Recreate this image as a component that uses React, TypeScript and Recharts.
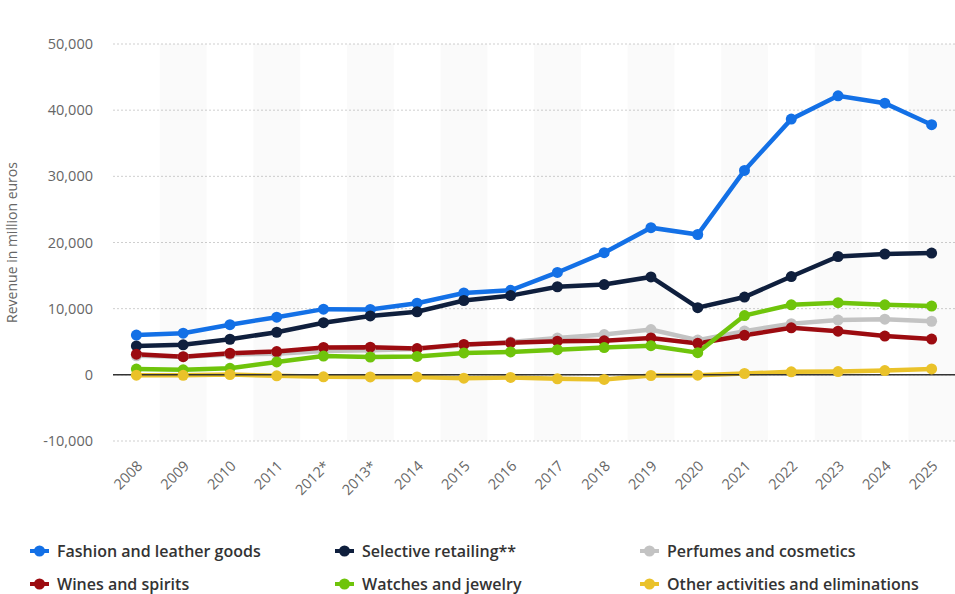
import { ComposedChart, Line, Bar, XAxis, YAxis, CartesianGrid, ReferenceLine } from 'recharts';

const years = ['2008', '2009', '2010', '2011', '2012*', '2013*', '2014', '2015', '2016', '2017', '2018', '2019', '2020', '2021', '2022', '2023', '2024', '2025'];
const fashion = [6010, 6302, 7581, 8712, 9926, 9883, 10828, 12369, 12775, 15472, 18455, 22237, 21207, 30896, 38648, 42169, 41060, 37800];
const selective = [4376, 4533, 5378, 6436, 7879, 8903, 9534, 11233, 11973, 13311, 13646, 14791, 10155, 11754, 14852, 17885, 18262, 18400];
const perfumes = [2868, 2741, 3076, 3195, 3613, 3717, 3916, 4517, 4953, 5560, 6092, 6835, 5248, 6608, 7722, 8271, 8418, 8100];
const wines = [3126, 2740, 3261, 3524, 4137, 4187, 3973, 4603, 4835, 5084, 5143, 5576, 4755, 5974, 7099, 6602, 5862, 5400];
const watches = [879, 764, 985, 1949, 2836, 2697, 2782, 3308, 3468, 3805, 4123, 4405, 3356, 8964, 10581, 10902, 10577, 10400];
const other = [-60, -80, 50, -150, -300, -320, -320, -500, -400, -600, -700, -100, -50, 200, 450, 500, 650, 900];
// alternating column shading
const shade = [0, 1, 0, 1, 0, 1, 0, 1, 0, 1, 0, 1, 0, 1, 0, 1, 0, 1];
const yTicks = [-10000, 0, 10000, 20000, 30000, 40000, 50000];

const series = [
    { key: 'fashion', name: 'Fashion and leather goods', color: '#1370e6' },
    { key: 'selective', name: 'Selective retailing**', color: '#0f1f3d' },
    { key: 'perfumes', name: 'Perfumes and cosmetics', color: '#c3c3c3' },
    { key: 'wines', name: 'Wines and spirits', color: '#9c0b10' },
    { key: 'watches', name: 'Watches and jewelry', color: '#6fc40b' },
    { key: 'other', name: 'Other activities and eliminations', color: '#eac22a' },
];

const data = years.map((year, i) => ({
    year,
    fashion: fashion[i],
    selective: selective[i],
    perfumes: perfumes[i],
    wines: wines[i],
    watches: watches[i],
    other: other[i],
    shade: shade[i],
}));

const font = '"Open Sans", sans-serif';

function XTick({ x, y, payload }: any) {
    return (
        <g transform={`translate(${x + 7},${y + 26})`}>
            <text x={0} y={0} textAnchor="end" transform="rotate(-45)" fill="#666" fontSize={14.5} fontFamily={font}>
                {payload.value}
            </text>
        </g>
    );
}

export default function App() {
    return (
        <div style={{ position: 'absolute', left: 0, top: 0, width: 955, height: 594, background: '#fff' }}>
            <ComposedChart width={955} height={501} data={data} margin={{ top: 44, right: 0, left: 0, bottom: 0 }} barCategoryGap={0}>
                <CartesianGrid vertical={false} stroke="#cfcfcf" strokeDasharray="2 2" />
                <XAxis dataKey="year" interval={0} axisLine={false} tickLine={false} tickSize={0} tickMargin={0} height={60} tick={<XTick />} />
                <YAxis
                    domain={[-10000, 50000]}
                    ticks={yTicks}
                    width={113}
                    axisLine={false}
                    tickLine={false}
                    tickSize={0}
                    tickMargin={20}
                    tickFormatter={(v: number) => v.toLocaleString('en-US')}
                    tick={{ fill: '#666', fontSize: 14.5, fontFamily: font }}
                    label={{ value: 'Revenue in million euros', angle: -90, position: 'insideLeft', offset: 12, style: { textAnchor: 'middle', fill: '#666', fontSize: 14, fontFamily: font } }}
                />
                <YAxis yAxisId="band" domain={[0, 1]} hide />
                <Bar yAxisId="band" dataKey="shade" fill="#000" fillOpacity={0.02} isAnimationActive={false} />
                {series.map((s) => (
                    <Line
                        key={s.key}
                        dataKey={s.key}
                        name={s.name}
                        stroke={s.color}
                        strokeWidth={4.5}
                        dot={{ r: 5.5, fill: s.color, stroke: s.color, strokeWidth: 0 }}
                        activeDot={false}
                        isAnimationActive={false}
                    />
                ))}
                <ReferenceLine y={0} stroke="#333" strokeWidth={1.5} />
            </ComposedChart>
            {series.map((s, i) => (
                <div
                    key={s.key}
                    style={{
                        position: 'absolute',
                        left: [30, 335, 640][i % 3],
                        top: [551, 584][Math.floor(i / 3)] - 10,
                        height: 20,
                        lineHeight: '20px',
                        display: 'flex',
                        alignItems: 'center',
                        fontFamily: font,
                        fontSize: 16,
                        fontWeight: 600,
                        color: '#333',
                        whiteSpace: 'nowrap',
                    }}
                >
                    <svg width={27} height={14}>
                        <line x1={0} y1={7} x2={19} y2={7} stroke={s.color} strokeWidth={4} />
                        <circle cx={9.5} cy={7} r={5.5} fill={s.color} />
                    </svg>
                    {s.name}
                </div>
            ))}
        </div>
    );
}
